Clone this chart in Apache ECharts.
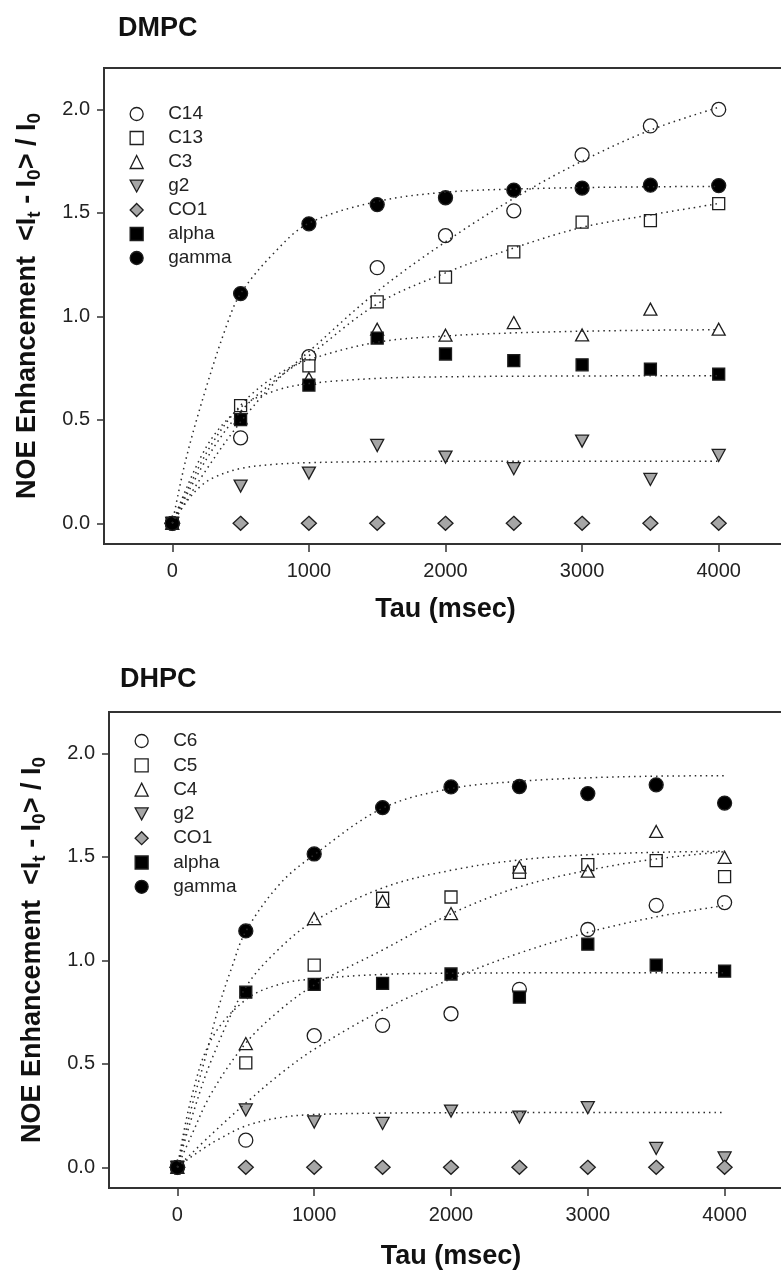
<!DOCTYPE html>
<html>
<head>
<meta charset="utf-8">
<title>NOE enhancement DMPC / DHPC</title>
<script src="https://cdn.jsdelivr.net/npm/echarts@6/dist/echarts.min.js"></script>
<style>
  html, body { margin: 0; padding: 0; background: #fff; }
  #main { width: 781px; height: 1272px; }
</style>
</head>
<body>
<div id="main"></div>
<script>
// mixing times (msec)
const tau = [0, 500, 1000, 1500, 2000, 2500, 3000, 3500, 4000];
const xTicks = [0, 1000, 2000, 3000, 4000];
const yTicks = [0, 0.5, 1.0, 1.5, 2.0];

// DMPC points
const dmpcNames = ['C14', 'C13', 'C3', 'g2', 'CO1', 'alpha', 'gamma'];
const dmpcC14 = [0, 0.413, 0.805, 1.235, 1.39, 1.51, 1.78, 1.92, 2.0];
const dmpcC13 = [0, 0.569, 0.761, 1.07, 1.19, 1.312, 1.455, 1.463, 1.545];
const dmpcC3 = [0, 0.51, 0.70, 0.938, 0.909, 0.97, 0.91, 1.035, 0.938];
const dmpcG2 = [0, 0.18, 0.243, 0.376, 0.32, 0.264, 0.397, 0.212, 0.328];
const dmpcCO1 = [0, 0, 0, 0, 0, 0, 0, 0, 0];
const dmpcAlpha = [0, 0.501, 0.668, 0.895, 0.818, 0.786, 0.766, 0.745, 0.721];
const dmpcGamma = [0, 1.11, 1.447, 1.54, 1.573, 1.61, 1.62, 1.634, 1.632];

// DMPC fitted curves, [tau, value]
const dmpcFitC14 = [[0, 0], [250, 0.26], [500, 0.49], [750, 0.68], [1000, 0.83], [1500, 1.12], [2000, 1.36], [2500, 1.57], [3000, 1.75], [3500, 1.90], [4000, 2.01]];
const dmpcFitC13 = [[0, 0], [250, 0.31], [500, 0.54], [750, 0.69], [1000, 0.81], [1500, 1.06], [2000, 1.21], [2500, 1.33], [3000, 1.43], [3500, 1.49], [4000, 1.545]];
const dmpcFitC3 = [[0, 0], [250, 0.34], [500, 0.57], [750, 0.71], [1000, 0.79], [1500, 0.875], [2000, 0.905], [2500, 0.92], [3000, 0.928], [3500, 0.933], [4000, 0.935]];
const dmpcFitG2 = [[0, 0], [100, 0.10], [200, 0.175], [300, 0.22], [500, 0.265], [750, 0.285], [1000, 0.293], [1500, 0.298], [2000, 0.30], [3000, 0.30], [4000, 0.30]];
const dmpcFitAlpha = [[0, 0], [250, 0.37], [500, 0.56], [750, 0.64], [1000, 0.675], [1500, 0.70], [2000, 0.708], [3000, 0.712], [4000, 0.713]];
const dmpcFitGamma = [[0, 0], [100, 0.31], [250, 0.66], [400, 0.96], [500, 1.11], [750, 1.31], [1000, 1.45], [1500, 1.555], [2000, 1.60], [2500, 1.615], [3000, 1.622], [3500, 1.626], [4000, 1.628]];

// DHPC points
const dhpcNames = ['C6', 'C5', 'C4', 'g2', 'CO1', 'alpha', 'gamma'];
const dhpcC6 = [0, 0.131, 0.636, 0.686, 0.742, 0.86, 1.149, 1.266, 1.279];
const dhpcC5 = [0, 0.505, 0.977, 1.30, 1.306, 1.425, 1.463, 1.482, 1.405];
const dhpcC4 = [0, 0.598, 1.202, 1.285, 1.226, 1.45, 1.431, 1.623, 1.498];
const dhpcG2 = [0, 0.277, 0.219, 0.212, 0.272, 0.243, 0.288, 0.091, 0.045];
const dhpcCO1 = [0, 0, 0, 0, 0, 0, 0, 0, 0];
const dhpcAlpha = [0, 0.846, 0.884, 0.889, 0.934, 0.822, 1.078, 0.977, 0.948];
const dhpcGamma = [0, 1.142, 1.514, 1.738, 1.838, 1.84, 1.806, 1.848, 1.76];

// DHPC fitted curves, [tau, value]
const dhpcFitC6 = [[0, 0], [250, 0.16], [500, 0.31], [750, 0.45], [1000, 0.57], [1500, 0.76], [2000, 0.91], [2500, 1.035], [3000, 1.135], [3500, 1.21], [4000, 1.265]];
const dhpcFitC5 = [[0, 0], [100, 0.15], [250, 0.36], [500, 0.60], [750, 0.76], [1000, 0.88], [1500, 1.05], [2000, 1.225], [2500, 1.355], [3000, 1.435], [3500, 1.49], [4000, 1.525]];
const dhpcFitC4 = [[0, 0], [100, 0.23], [250, 0.52], [500, 0.87], [750, 1.06], [1000, 1.19], [1500, 1.35], [2000, 1.435], [2500, 1.485], [3000, 1.51], [3500, 1.522], [4000, 1.527]];
const dhpcFitG2 = [[0, 0], [100, 0.05], [200, 0.095], [300, 0.135], [500, 0.20], [750, 0.24], [1000, 0.255], [1500, 0.262], [2000, 0.264], [3000, 0.265], [4000, 0.265]];
const dhpcFitAlpha = [[0, 0], [100, 0.33], [250, 0.62], [500, 0.81], [750, 0.885], [1000, 0.91], [1500, 0.932], [2000, 0.938], [3000, 0.94], [4000, 0.94]];
const dhpcFitGamma = [[0, 0], [100, 0.28], [200, 0.52], [300, 0.77], [400, 0.97], [500, 1.14], [750, 1.37], [1000, 1.51], [1500, 1.735], [2000, 1.83], [2500, 1.865], [3000, 1.882], [3500, 1.89], [4000, 1.892]];

const FONT = 'Liberation Sans, Arial, sans-serif';
const GRAY = '#a6a6a6';
const INK = '#1e1e1e';
const DOWN_TRIANGLE = 'path://M0,0L12,0L6,11Z';

// marker look, same order as the names
const markers = [
  {symbol: 'circle', size: 14, fill: '#fff', rotate: 0},
  {symbol: 'rect', size: 12, fill: '#fff', rotate: 0},
  {symbol: 'triangle', size: [13, 12], fill: '#fff', rotate: 0},
  {symbol: 'triangle', size: [13, 12], fill: GRAY, rotate: 180},
  {symbol: 'diamond', size: [15, 14], fill: GRAY, rotate: 0},
  {symbol: 'rect', size: 12, fill: '#000', rotate: 0},
  {symbol: 'circle', size: 14, fill: '#000', rotate: 0}
];

function pointSeries(names, lists, idx) {
  return names.map(function (name, j) {
    let m = markers[j];
    return {
      type: 'scatter',
      name: name,
      xAxisIndex: idx,
      yAxisIndex: idx,
      data: tau.map(function (t, k) { return [t, lists[j][k]]; }),
      symbol: m.symbol,
      symbolSize: m.size,
      symbolRotate: m.rotate,
      symbolKeepAspect: true,
      itemStyle: {color: m.fill, borderColor: INK, borderWidth: 1.3, opacity: 1},
      emphasis: {disabled: true},
      z: 2
    };
  });
}

function fitSeries(fits, idx) {
  return fits.map(function (fit, j) {
    return {
      type: 'line',
      name: 'fit' + idx + '_' + j,
      xAxisIndex: idx,
      yAxisIndex: idx,
      data: fit,
      smooth: 0.35,
      showSymbol: false,
      symbol: 'none',
      lineStyle: {color: '#2a2a2a', width: 1.5, type: [1.5, 4]},
      emphasis: {disabled: true},
      z: 3
    };
  });
}

function xAxisFor(idx, gap) {
  return {
    type: 'value', gridIndex: idx, min: -500, max: 4500,
    splitLine: {show: false},
    axisLine: {show: true, onZero: false, lineStyle: {color: '#333', width: 2}},
    axisTick: {show: true, length: 8, customValues: xTicks, lineStyle: {color: '#333', width: 1.5}},
    axisLabel: {customValues: xTicks, fontSize: 20, color: '#222', margin: 17, fontFamily: FONT,
      formatter: function (v) { return String(v); }},
    name: 'Tau (msec)', nameLocation: 'middle', nameGap: gap,
    nameTextStyle: {fontSize: 27, fontWeight: 'bold', color: '#111', fontFamily: FONT}
  };
}

function yAxisFor(idx) {
  return {
    type: 'value', gridIndex: idx, min: -0.1, max: 2.2,
    splitLine: {show: false},
    axisLine: {show: true, onZero: false, lineStyle: {color: '#333', width: 2}},
    axisTick: {show: true, length: 7, customValues: yTicks, lineStyle: {color: '#333', width: 1.5}},
    axisLabel: {customValues: yTicks, fontSize: 20, color: '#222', margin: 14, fontFamily: FONT,
      formatter: function (v) { return v.toFixed(1); }},
    name: '{b|NOE Enhancement  <I}{s|t}{b| - I}{s|0}{b|> / I}{s|0}',
    nameLocation: 'middle', nameGap: 60,
    nameTextStyle: {
      rich: {
        b: {fontSize: 27, fontWeight: 'bold', color: '#111', lineHeight: 32, fontFamily: FONT},
        s: {fontSize: 19, fontWeight: 'bold', color: '#111', lineHeight: 18, verticalAlign: 'bottom', fontFamily: FONT}
      }
    }
  };
}

// icon box is only as wide as the symbol; the text is pushed right with padding
function legendFor(names, left, top, gap) {
  return {
    data: names.map(function (name, j) {
      let item = {name: name};
      if (markers[j].rotate === 180) item.icon = DOWN_TRIANGLE;
      return item;
    }),
    orient: 'vertical', left: left, top: top, padding: 0,
    itemWidth: 13, itemHeight: 13, itemGap: gap, selectedMode: false,
    itemStyle: {borderWidth: 1.3},
    textStyle: {fontSize: 19, color: '#222', fontFamily: FONT, padding: [0, 0, 0, 20]}
  };
}

let chart = echarts.init(document.getElementById('main'), null, {renderer: 'canvas'});

let option = {
  animation: false,
  backgroundColor: '#fff',
  textStyle: {fontFamily: FONT},
  title: [
    {text: 'DMPC', left: 113, top: 10, textStyle: {fontSize: 27, fontWeight: 'bold', color: '#111', fontFamily: FONT}},
    {text: 'DHPC', left: 115, top: 661, textStyle: {fontSize: 27, fontWeight: 'bold', color: '#111', fontFamily: FONT}}
  ],
  grid: [
    {left: 104, top: 68, right: -6, height: 476, show: true, borderColor: '#333', borderWidth: 2, outerBoundsMode: 'none'},
    {left: 109, top: 712, right: -12, height: 476, show: true, borderColor: '#333', borderWidth: 2, outerBoundsMode: 'none'}
  ],
  legend: [
    legendFor(dmpcNames, 129.5, 104.5, 5),
    legendFor(dhpcNames, 134.5, 731.5, 5.3)
  ],
  xAxis: [xAxisFor(0, 52), xAxisFor(1, 55)],
  yAxis: [yAxisFor(0), yAxisFor(1)],
  series: []
    .concat(pointSeries(dmpcNames, [dmpcC14, dmpcC13, dmpcC3, dmpcG2, dmpcCO1, dmpcAlpha, dmpcGamma], 0))
    .concat(fitSeries([dmpcFitC14, dmpcFitC13, dmpcFitC3, dmpcFitG2, dmpcFitAlpha, dmpcFitGamma], 0))
    .concat(pointSeries(dhpcNames, [dhpcC6, dhpcC5, dhpcC4, dhpcG2, dhpcCO1, dhpcAlpha, dhpcGamma], 1))
    .concat(fitSeries([dhpcFitC6, dhpcFitC5, dhpcFitC4, dhpcFitG2, dhpcFitAlpha, dhpcFitGamma], 1))
};

chart.setOption(option);
</script>
</body>
</html>
